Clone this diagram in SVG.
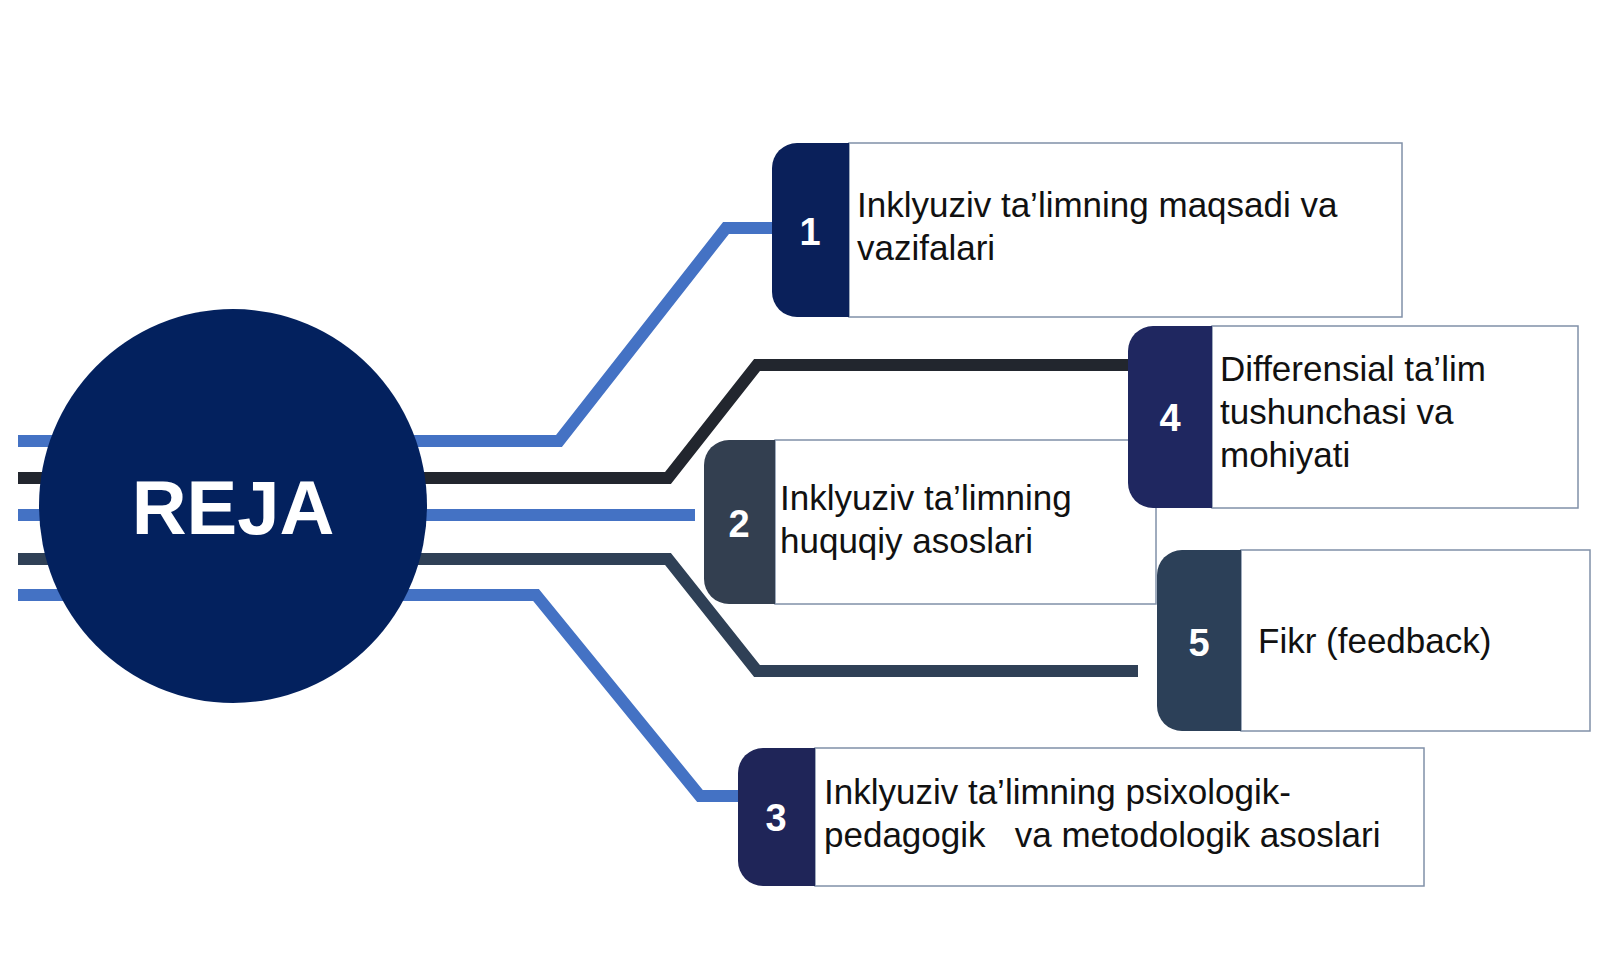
<svg xmlns="http://www.w3.org/2000/svg" width="1600" height="960" viewBox="0 0 1600 960">
<style>
.ln{fill:none;stroke-width:12;stroke-linejoin:miter}
.box{fill:#fff;stroke:#8090a8;stroke-width:1.5}
.t{font-family:"Liberation Sans",Arial,sans-serif;font-size:35px;fill:#111}
.n{font-family:"Liberation Sans",Arial,sans-serif;font-size:38px;font-weight:bold;fill:#fff;text-anchor:middle}
</style>
<rect width="1600" height="960" fill="#fff"/>
<g id="connectors">
<polyline class="ln" stroke="#4472C4" points="18,441 559,441 726,228 772,228"/>
<polyline class="ln" stroke="#22262E" points="18,478 668,478 757,365 1128,365"/>
<polyline class="ln" stroke="#4472C4" points="18,515 695,515"/>
<polyline class="ln" stroke="#2F4056" points="18,559 668,559 757,671 1138,671"/>
<polyline class="ln" stroke="#4472C4" points="18,595 536,595 700,796 738,796"/>
</g>
<g id="center">
<ellipse cx="233" cy="506" rx="194" ry="197" fill="#03215E"/>
<text x="233" y="534" text-anchor="middle" font-family="Liberation Sans,Arial,sans-serif" font-size="76" font-weight="bold" fill="#fff">REJA</text>
</g>
<g id="node1">
<rect class="box" x="849" y="143" width="553" height="174"/>
<path d="M797,143H849V317H797A25,25 0 0 1 772,292V168A25,25 0 0 1 797,143Z" fill="#0A205A"/>
<text class="n" x="810" y="245">1</text>
<text class="t" x="857" y="217">Inklyuziv ta’limning maqsadi va</text>
<text class="t" x="857" y="260">vazifalari</text>
</g>
<g id="node2">
<rect class="box" x="775" y="440" width="381" height="164"/>
<path d="M729,440H775V604H729A25,25 0 0 1 704,579V465A25,25 0 0 1 729,440Z" fill="#333F50"/>
<text class="n" x="739" y="537">2</text>
<text class="t" x="780" y="510">Inklyuziv ta’limning</text>
<text class="t" x="780" y="553">huquqiy asoslari</text>
</g>
<g id="node4">
<rect class="box" x="1212" y="326" width="366" height="182"/>
<path d="M1153,326H1212V508H1153A25,25 0 0 1 1128,483V351A25,25 0 0 1 1153,326Z" fill="#1F2760"/>
<text class="n" x="1170" y="431">4</text>
<text class="t" x="1220" y="381">Differensial ta’lim</text>
<text class="t" x="1220" y="424">tushunchasi va</text>
<text class="t" x="1220" y="467">mohiyati</text>
</g>
<g id="node5">
<rect class="box" x="1241" y="550" width="349" height="181"/>
<path d="M1182,550H1241V731H1182A25,25 0 0 1 1157,706V575A25,25 0 0 1 1182,550Z" fill="#2C4058"/>
<text class="n" x="1199" y="656">5</text>
<text class="t" x="1258" y="653">Fikr (feedback)</text>
</g>
<g id="node3">
<rect class="box" x="815" y="748" width="609" height="138"/>
<path d="M763,748H815V886H763A25,25 0 0 1 738,861V773A25,25 0 0 1 763,748Z" fill="#1F2558"/>
<text class="n" x="776" y="831">3</text>
<text class="t" x="824" y="804">Inklyuziv ta’limning psixologik-</text>
<text class="t" x="824" y="847" xml:space="preserve">pedagogik   va metodologik asoslari</text>
</g>
</svg>
